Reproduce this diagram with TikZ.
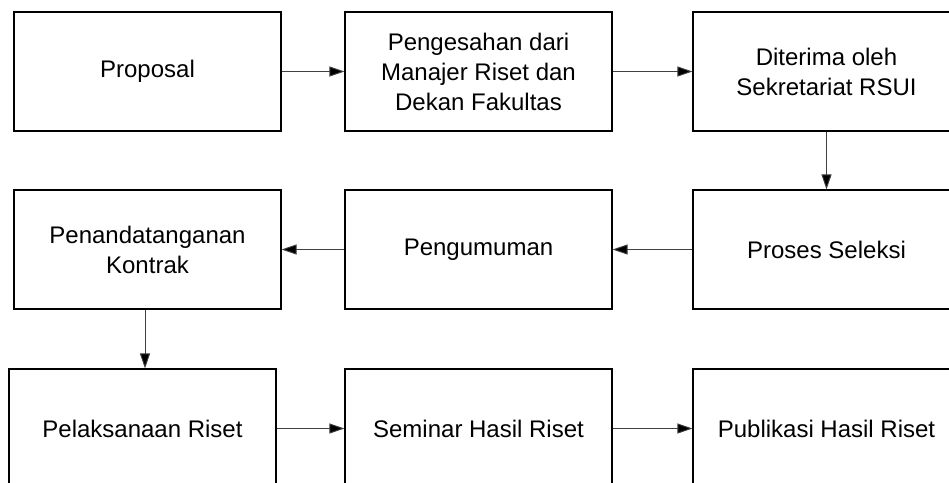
\documentclass[tikz,border=0pt]{standalone}
\usepackage{fontspec}
\setmainfont{Liberation Sans}
\usetikzlibrary{arrows.meta}
\begin{document}
\begin{tikzpicture}[x=1pt,y=-1pt,
  box/.style={draw=black, line width=1.1pt, minimum width=267pt, minimum height=119pt,
    inner sep=0pt, align=center, font=\fontsize{24}{30}\selectfont, text=black},
  arr/.style={draw=black!75, line width=0.9pt, -{Triangle[length=15pt,width=10pt,fill=black]}}]
\useasboundingbox (0,0) rectangle (949,482);
\clip (0,0) rectangle (949,482);
\node[box] (A) at (147.5,71.5) {Proposal};
\node[box] (B) at (478.5,71.5) {Pengesahan dari\\Manajer Riset dan\\Dekan Fakultas};
\node[box] (C) at (826.5,71.5) {Diterima oleh\\Sekretariat RSUI};
\node[box] (D) at (147.5,249.5) {Penandatanganan\\Kontrak};
\node[box] (E) at (478.5,249.5) {Pengumuman};
\node[box] (F) at (826.5,249.5) {Proses Seleksi};
\node[box] (G) at (142.5,428.5) {Pelaksanaan Riset};
\node[box] (H) at (478.5,428.5) {Seminar Hasil Riset};
\node[box] (I) at (826.5,428.5) {Publikasi Hasil Riset};
\draw[arr] (A) -- (B);
\draw[arr] (B) -- (C);
\draw[arr] (C) -- (F);
\draw[arr] (F) -- (E);
\draw[arr] (E) -- (D);
\draw[arr] ([xshift=-2.5pt]D.south) -- ([xshift=2.5pt]G.north);
\draw[arr] (G) -- (H);
\draw[arr] (H) -- (I);
\end{tikzpicture}
\end{document}
